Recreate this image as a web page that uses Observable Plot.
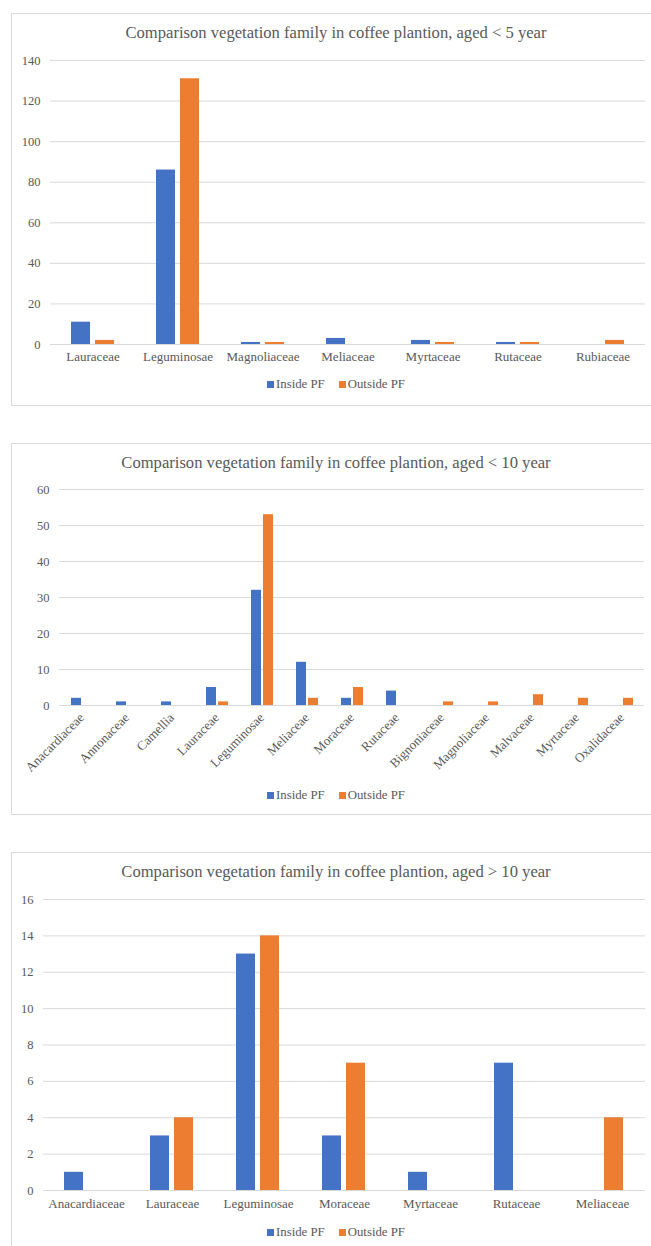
<!DOCTYPE html>
<html>
<head>
<meta charset="utf-8">
<script src="https://cdn.jsdelivr.net/npm/d3@7"></script>
<script src="https://cdn.jsdelivr.net/npm/@observablehq/plot@0.6"></script>
<style>
  html, body { margin: 0; padding: 0; background: #fff; overflow: hidden; }
  body { width: 651px; height: 1246px; position: relative; font-family: "Liberation Serif", "Times New Roman", serif; color: #595959; }
  .box { position: absolute; left: 11px; width: 650px; border: 1px solid #d9d9d9; box-sizing: border-box; }
  .title { position: absolute; left: 11px; width: 650px; text-align: center; font-size: 16.6px; line-height: 20px; color: #595959; white-space: nowrap; }
  .chart { position: absolute; left: 0; }
  .chart g[aria-label="fx-axis tick label"] { font-size: 13px; }
  .legend { position: absolute; left: 11px; width: 650px; display: flex; justify-content: center; align-items: center; font-size: 12.8px; line-height: 16px; color: #595959; }
  .legend .item { display: flex; align-items: center; margin: 0 7px; }
  .legend .sw { width: 7px; height: 7px; margin-right: 2px; display: inline-block; }
</style>
</head>
<body>
<div id="root"></div>
<script>
// ---- data ----
const series = ["Inside PF", "Outside PF"];
const seriesColors = ["#4472C4", "#ED7D31"];

const families1 = ["Lauraceae", "Leguminosae", "Magnoliaceae", "Meliaceae", "Myrtaceae", "Rutaceae", "Rubiaceae"];
const inside1  = [11, 86, 1, 3, 2, 1, 0];
const outside1 = [2, 131, 1, 0, 1, 1, 2];
const yTicks1 = [0, 20, 40, 60, 80, 100, 120, 140];
const title1 = "Comparison vegetation family in coffee plantion, aged < 5 year";

const families2 = ["Anacardiaceae", "Annonaceae", "Camellia", "Lauraceae", "Leguminosae", "Meliaceae", "Moraceae", "Rutaceae", "Bignoniaceae", "Magnoliaceae", "Malvaceae", "Myrtaceae", "Oxalidaceae"];
const inside2  = [2, 1, 1, 5, 32, 12, 2, 4, 0, 0, 0, 0, 0];
const outside2 = [0, 0, 0, 1, 53, 2, 5, 0, 1, 1, 3, 2, 2];
const yTicks2 = [0, 10, 20, 30, 40, 50, 60];
const title2 = "Comparison vegetation family in coffee plantion, aged < 10 year";

const families3 = ["Anacardiaceae", "Lauraceae", "Leguminosae", "Moraceae", "Myrtaceae", "Rutaceae", "Meliaceae"];
const inside3  = [1, 3, 13, 3, 1, 7, 0];
const outside3 = [0, 4, 14, 7, 0, 0, 4];
const yTicks3 = [0, 2, 4, 6, 8, 10, 12, 14, 16];
const title3 = "Comparison vegetation family in coffee plantion, aged > 10 year";

function tidy(fams, ins, outs) {
  const rows = [];
  fams.forEach((f, i) => {
    rows.push({family: f, series: series[0], value: ins[i]});
    rows.push({family: f, series: series[1], value: outs[i]});
  });
  return rows;
}

const root = document.getElementById("root");

function panel(cfg) {
  const box = document.createElement("div");
  box.className = "box";
  box.style.top = cfg.boxTop + "px";
  box.style.height = cfg.boxHeight + "px";
  root.appendChild(box);

  const t = document.createElement("div");
  t.className = "title";
  t.textContent = cfg.title;
  t.style.top = (cfg.titleY - 10) + "px";
  root.appendChild(t);

  const rows = tidy(cfg.families, cfg.inside, cfg.outside);
  const yMax = cfg.yTicks[cfg.yTicks.length - 1];
  const svg = Plot.plot({
    width: 651,
    height: cfg.height,
    marginLeft: cfg.marginLeft,
    marginRight: cfg.marginRight,
    marginTop: cfg.marginTop,
    marginBottom: cfg.marginBottom,
    style: {fontFamily: "'Liberation Serif', 'Times New Roman', serif", fontSize: "12.5px", color: "#595959", background: "transparent", overflow: "visible"},
    fx: {domain: cfg.families, padding: 0, label: null, axis: "bottom", tickSize: 0, tickPadding: cfg.tickPadding, tickRotate: cfg.rotate || 0},
    x: {domain: series, axis: null, paddingInner: 0.2, paddingOuter: 0.87},
    y: {domain: [0, yMax], ticks: cfg.yTicks, tickSize: 0, tickPadding: 10, label: null},
    color: {domain: series, range: seriesColors},
    marks: [
      Plot.ruleY(cfg.yTicks, {stroke: "#d9d9d9", strokeWidth: 1}),
      Plot.barY(rows, {fx: "family", x: "series", y: "value", fill: "series"})
    ]
  });
  const wrap = document.createElement("div");
  wrap.className = "chart";
  wrap.style.top = cfg.svgTop + "px";
  wrap.appendChild(svg);
  root.appendChild(wrap);

  const lg = document.createElement("div");
  lg.className = "legend";
  lg.style.top = (cfg.legendY - 8) + "px";
  series.forEach((s, i) => {
    const it = document.createElement("span");
    it.className = "item";
    const sw = document.createElement("span");
    sw.className = "sw";
    sw.style.background = seriesColors[i];
    it.appendChild(sw);
    it.appendChild(document.createTextNode(s));
    lg.appendChild(it);
  });
  root.appendChild(lg);
}

panel({
  title: title1, families: families1, inside: inside1, outside: outside1, yTicks: yTicks1,
  boxTop: 13, boxHeight: 393, titleY: 33,
  svgTop: 50, height: 324, marginTop: 10, marginBottom: 30, marginLeft: 50, marginRight: 6,
  tickPadding: 7, legendY: 384
});
panel({
  title: title2, families: families2, inside: inside2, outside: outside2, yTicks: yTicks2,
  boxTop: 443, boxHeight: 372, titleY: 463,
  svgTop: 479, height: 306, marginTop: 10, marginBottom: 80, marginLeft: 54, marginRight: 3,
  tickPadding: 10, rotate: -45, legendY: 795
});
panel({
  title: title3, families: families3, inside: inside3, outside: outside3, yTicks: yTicks3,
  boxTop: 852, boxHeight: 420, titleY: 872,
  svgTop: 889, height: 331, marginTop: 10, marginBottom: 30, marginLeft: 43, marginRight: 6,
  tickPadding: 8, legendY: 1232
});
</script>
</body>
</html>
